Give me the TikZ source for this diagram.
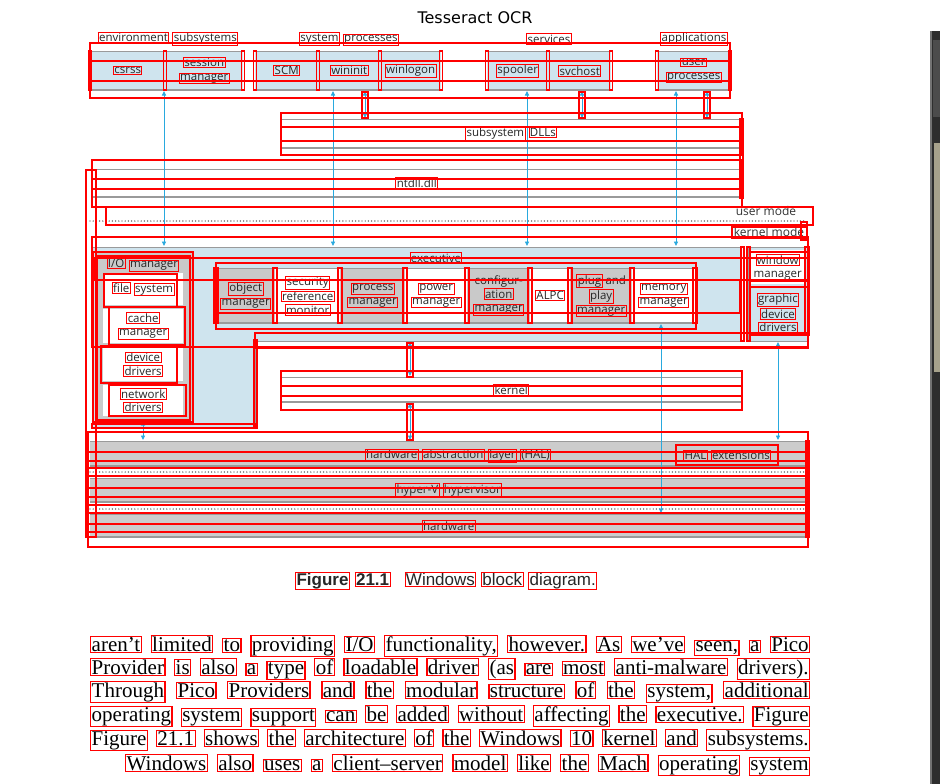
\documentclass[tikz,border=0pt]{standalone}
\usepackage{fontspec}
\setmainfont{Liberation Serif}
\newfontfamily\labfont{Open Sans}
\newfontfamily\capfont{Liberation Sans}
\newfontfamily\titfont{DejaVu Sans}
\newfontfamily\parafont{Liberation Serif}
\usetikzlibrary{arrows.meta}
\definecolor{lblue}{HTML}{CFE4EE}
\definecolor{lgray}{HTML}{C9C9C9}
\definecolor{hgray}{HTML}{CCCCCC}
\definecolor{edge}{HTML}{9A9A9A}
\definecolor{arr}{HTML}{29A9DE}
\definecolor{ocr}{HTML}{FF0000}
\definecolor{beige}{HTML}{A7A28C}
\newcommand\ow[1]{{\setlength\fboxsep{0.4pt}\setlength\fboxrule{1pt}\color{ocr}\fbox{\color{black!85}#1}}}
\newcommand\owp[1]{{\setlength\fboxsep{0.3pt}\setlength\fboxrule{1.2pt}\color{ocr}\fbox{\color{black}#1}}}
\def\owlA#1 #2\owlEnd{\owp{#1}\if\relax\detokenize{#2}\relax\else\space\owlA#2\owlEnd\fi}
\newcommand\owl[1]{\owlA#1 \owlEnd}
\newcommand\bx[7]{\node[#6, anchor=north west, minimum width={#4pt-#2pt}, minimum height={#5pt-#3pt}] (#1) at (#2,#3) {#7};}
\begin{document}
\begin{tikzpicture}[x=1pt,y=-1pt,
  lab/.style={font=\labfont\fontsize{11.5}{13.5}\selectfont, align=center, text=black!85, inner sep=0pt},
  ocrbox/.style={draw=ocr, line width=1.3pt},
  edgelines/.style={path picture={\draw[edge, line width=2pt] (path picture bounding box.north west) -- (path picture bounding box.north east) (path picture bounding box.south west) -- (path picture bounding box.south east);}},
  tband/.style={lab, fill=lblue, edgelines},
  wband/.style={lab, fill=white, edgelines},
  gband/.style={lab, fill=lgray, edgelines},
  hband/.style={lab, fill=hgray, edgelines},
  wbox/.style={lab, fill=white},
  biarrow/.style={draw=arr, line width=0.9pt, arrows={Triangle[length=4.5pt,width=4pt]-Triangle[length=4.5pt,width=4pt]}},
  dots/.style={draw=black!75, line width=1.4pt, line cap=round, dash pattern=on 0pt off 3.2pt},
  modetxt/.style={font=\labfont\fontsize{12}{14}\selectfont, text=black!80, inner sep=0pt},
]
\useasboundingbox (0,0) rectangle (950,784);
\fill[white] (0,0) rectangle (950,784);

% right dark strip
\fill[black!82] (930,31) rectangle (940,784);
\fill[black!55] (930,31) rectangle (932,784);
\fill[black!70] (933,40) rectangle (940,117);
\fill[beige] (934,143) rectangle (940,372);

% title
\node[font=\titfont\fontsize{16}{18}\selectfont] (title) at (475,18) {Tesseract OCR};

% group labels
\node[lab] (envlab) at (168,39) {\ow{environment} \ow{subsystems}};
\node[lab] (splab) at (349,39) {\ow{system} \ow{processes}};
\node[lab] (svlab) at (549,39) {\ow{services}};
\node[lab] (aplab) at (694,39) {\ow{applications}};

% top row
\bx{csrss}{90}{51}{165}{90}{tband}{\ow{csrss}}
\bx{sm}{165}{51}{243}{90}{tband}{\ow{session}\\\ow{manager}}
\bx{scm}{255}{51}{318}{90}{tband}{\ow{SCM}}
\bx{wininit}{318}{51}{380}{90}{tband}{\ow{wininit}}
\bx{winlogon}{380}{51}{441}{90}{tband}{\ow{winlogon}}
\bx{spooler}{487}{51}{548}{90}{tband}{\ow{spooler}}
\bx{svchost}{548}{51}{611}{90}{tband}{\ow{svchost}}
\bx{userp}{657}{51}{730}{90}{tband}{\ow{user}\\\ow{processes}}

% subsystem DLLs and ntdll
\bx{sdll}{281}{119}{741}{148}{wband}{\ow{subsystem} \ow{DLLs}}
\bx{ntdll}{92}{169}{741}{197}{wband}{\ow{ntdll.dll}}

% mode line
\coordinate (dl1) at (90,221); \coordinate (dl2) at (805,221);
\draw[dots] (dl1) -- (dl2);
\node[modetxt] (um) at (766,211) {user mode};
\node[modetxt] (km) at (769,232) {kernel mode};

% executive
\fill[lblue] (92,247) -- (742,247) -- (742,341) -- (255,341) -- (255,428) -- (92,428) -- cycle;
\draw[edge, line width=1pt] (92,428) -- (92,247) -- (742,247);
\draw[edge, line width=1pt] (255,428) -- (255,341) -- (742,341);
\node[lab] (exec) at (436,258) {\ow{executive}};

% I/O manager column
\fill[lgray] (95,253) rectangle (192,420);
\node[lab] (iolab) at (143,265) {\ow{I/O} \ow{manager}};
\bx{fs}{103}{273}{183}{305}{wbox}{\ow{file} \ow{system}}
\bx{cache}{103}{309}{183}{343}{wbox}{\ow{cache}\\\ow{manager}}
\bx{dd}{103}{347}{183}{381}{wbox}{\ow{device}\\\ow{drivers}}
\bx{nd}{103}{385}{183}{416}{wbox}{\ow{network}\\\ow{drivers}}

% executive components
\bx{objm}{216}{268}{275}{323}{gband}{\ow{object}\\\ow{manager}}
\bx{srm}{275}{268}{340}{323}{wband}{\ow{security}\\\ow{reference}\\\ow{monitor}}
\bx{procm}{340}{268}{405}{323}{gband}{\ow{process}\\\ow{manager}}
\bx{powm}{405}{268}{467}{323}{wband}{\ow{power}\\\ow{manager}}
\bx{confm}{467}{268}{530}{323}{gband}{configur-\\\ow{ation}\\\ow{manager}}
\bx{alpc}{530}{268}{570}{323}{wband}{\ow{ALPC}}
\bx{pnp}{570}{268}{632}{323}{gband}{\ow{plug} and\\\ow{play}\\\ow{manager}}
\bx{memm}{632}{268}{695}{323}{wband}{\ow{memory}\\\ow{manager}}

% window manager box
\fill[lblue] (748,247) rectangle (807,341);
\draw[edge, line width=1pt] (748,247) rectangle (807,341);
\bx{winm}{749}{250}{806}{284}{wbox}{\ow{window}\\manager}
\node[lab] (gdd) at (778,313) {\ow{graphic}\\\ow{device}\\\ow{drivers}};

% kernel
\bx{kernel}{281}{377}{741}{402}{wband}{\ow{kernel}}

% HAL layers
\bx{hal}{90}{441}{807}{466}{hband}{}
\node[lab] (haltxt) at (458,456) {\ow{hardware} \ow{abstraction} \ow{layer} \ow{(HAL)}};
\bx{halext}{678}{446}{776}{464}{lab}{\ow{HAL} \ow{extensions}}
\coordinate (d2a) at (90,472); \coordinate (d2b) at (807,472);
\draw[dots] (d2a) -- (d2b);
\bx{hyp}{90}{478}{807}{502}{hband}{\ow{hyper-V} \ow{hypervisor}}
\coordinate (d3a) at (90,509); \coordinate (d3b) at (807,509);
\draw[dots] (d3a) -- (d3b);
\bx{hw}{90}{514}{807}{537}{hband}{\ow{hardware}}

% arrows
\foreach \n/\x in {a/164,b/333,c/527,d/676}{
  \coordinate (\n t) at (\x,91); \coordinate (\n b) at (\x,246);
  \draw[biarrow] (\n t) -- (\n b);}
\foreach \n/\x in {e/365,f/582,g/707}{
  \coordinate (\n t) at (\x,91); \coordinate (\n b) at (\x,118);
  \draw[biarrow] (\n t) -- (\n b);}
\coordinate (ek1) at (410,342); \coordinate (ek2) at (410,376);
\draw[biarrow] (ek1) -- (ek2);
\coordinate (kh1) at (410,403); \coordinate (kh2) at (410,440);
\draw[biarrow] (kh1) -- (kh2);
\coordinate (ih1) at (143,421); \coordinate (ih2) at (143,440);
\draw[biarrow] (ih1) -- (ih2);
\coordinate (mh1) at (661,324); \coordinate (mh2) at (661,513);
\draw[biarrow] (mh1) -- (mh2);
\coordinate (gh1) at (778,342); \coordinate (gh2) at (778,440);
\draw[biarrow] (gh1) -- (gh2);

% OCR overlay boxes
\draw[ocrbox] (90,43) rectangle (730,98);
\draw[ocrbox] (90,61) rectangle (730,81);
\foreach \x in {90,165,243,255,318,380,441,487,548,611,657,730}
  \draw[ocrbox] (\x-1.5,51) rectangle (\x+1.5,90);
\foreach \x in {365,582,707}
  \draw[ocrbox] (\x-3,92) rectangle (\x+3,118);
\draw[ocrbox] (281,113) rectangle (742,155);
\draw[ocrbox] (281,127) rectangle (742,141);
\draw[ocrbox] (740,119) rectangle (743,198);
\draw[ocrbox] (92,160) rectangle (742,207);
\draw[ocrbox] (92,179) rectangle (742,189);
\draw[ocrbox] (86,170) rectangle (96,537);
\draw[ocrbox] (106,207) rectangle (813,225);
\draw[ocrbox] (732,227) rectangle (807,238);
\draw[ocrbox] (801,222) rectangle (807,240);
\draw[ocrbox] (92,237) rectangle (808,347);
\draw[ocrbox] (95,258) rectangle (808,280);
\draw[ocrbox] (93,252) rectangle (193,422);
\draw[ocrbox] (97,256) rectangle (190,420);
\draw[ocrbox] (104,274) rectangle (177,307);
\draw[ocrbox] (109,307) rectangle (185,345);
\draw[ocrbox] (101,346) rectangle (177,383);
\draw[ocrbox] (109,385) rectangle (186,416);
\draw[ocrbox] (216,263) rectangle (696,329);
\draw[ocrbox] (216,280) rectangle (740,313);
\foreach \x in {216,275,340,405,467,530,570,632,695}
  \draw[ocrbox] (\x-2,268) rectangle (\x+2,323);
\draw[ocrbox] (741,247) rectangle (744,341);
\draw[ocrbox] (747,247) rectangle (750,341);
\draw[ocrbox] (805,247) rectangle (809,335);
\draw[ocrbox] (750,252) rectangle (808,281);
\draw[ocrbox] (750,287) rectangle (808,335);
\draw[ocrbox] (255,333) rectangle (808,348);
\draw[ocrbox] (254,340) rectangle (257,428);
\draw[ocrbox] (92,424) rectangle (256,428);
\draw[ocrbox] (407,343) rectangle (413,377);
\draw[ocrbox] (407,404) rectangle (413,440);
\draw[ocrbox] (281,371) rectangle (742,410);
\draw[ocrbox] (281,386) rectangle (742,396);
\draw[ocrbox] (88,432) rectangle (808,547);
\draw[ocrbox] (88,452) rectangle (808,461);
\draw[ocrbox] (88,468) rectangle (808,476);
\draw[ocrbox] (88,488) rectangle (808,497);
\draw[ocrbox] (88,505) rectangle (808,513);
\draw[ocrbox] (88,524) rectangle (808,532);
\draw[ocrbox] (806,441) rectangle (809,537);
\draw[ocrbox] (676,445) rectangle (778,465);

% caption
\node[anchor=west, inner sep=0pt] (cap) at (295,581) {\capfont\fontsize{17}{19}\selectfont\ow{\bfseries Figure} \ow{\bfseries 21.1}\hspace{14pt}\ow{Windows} \ow{block} \ow{diagram.}};

% paragraph
\begin{scope}[every node/.style={anchor=west, inner sep=0pt, font=\parafont\fontsize{21}{23}\selectfont}]
\node (p1) at (90,646) {\makebox[720pt][s]{\owl{aren’t limited to providing I/O functionality, however. As we’ve seen, a Pico}}};
\node (p2) at (90,669) {\makebox[720pt][s]{\owl{Provider is also a type of loadable driver (as are most anti-malware drivers).}}};
\node (p3) at (90,692) {\makebox[720pt][s]{\owl{Through Pico Providers and the modular structure of the system, additional}}};
\node (p4) at (90,716) {\makebox[720pt][s]{\owl{operating system support can be added without affecting the executive. Figure}}};
\node (p5) at (90,740) {\makebox[720pt][s]{\owl{Figure 21.1 shows the architecture of the Windows 10 kernel and subsystems.}}};
\node (p6) at (125,765) {\makebox[685pt][s]{\owl{Windows also uses a client–server model like the Mach operating system}}};
\end{scope}
\end{tikzpicture}
\end{document}
